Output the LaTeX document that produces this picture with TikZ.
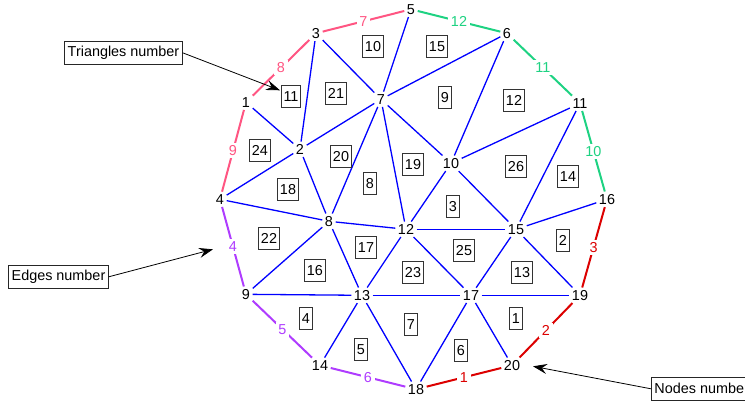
\documentclass[tikz,border=0pt]{standalone}
\usepackage{fontspec}
\setmainfont{Liberation Sans}
\usetikzlibrary{arrows.meta}
\definecolor{epink}{RGB}{255,85,130}
\definecolor{egreen}{RGB}{30,210,130}
\definecolor{ered}{RGB}{220,0,0}
\definecolor{epurple}{RGB}{175,60,255}
\begin{document}
\begin{tikzpicture}[x=1pt,y=-1pt,
  font=\fontsize{14.4}{16}\selectfont,
  vnode/.style={inner sep=2.5pt},
  tri/.style={draw=black!80, line width=0.8pt, inner xsep=2.3pt, inner ysep=0pt, minimum height=22pt},
  inedge/.style={blue, line width=1.3pt},
  bedge/.style={line width=2pt},
  elab/.style={fill=white, inner sep=2.5pt},
  ann/.style={draw=black!85, line width=0.8pt, inner xsep=3pt, inner ysep=0pt, minimum height=23pt},
  arr/.style={-{Stealth[length=14pt,width=10pt,inset=5pt]}, line width=0.8pt}]
\useasboundingbox (0,-0.3) rectangle (745,401.7);
\clip (0,-0.3) rectangle (745,401.7);
% vertices
\node[vnode] (n1) at (246,102) {1};
\node[vnode] (n2) at (300,149) {2};
\node[vnode] (n3) at (316,33) {3};
\node[vnode] (n4) at (220,199) {4};
\node[vnode] (n5) at (411,9) {5};
\node[vnode] (n6) at (507,33) {6};
\node[vnode] (n7) at (381,99) {7};
\node[vnode] (n8) at (329,221) {8};
\node[vnode] (n9) at (246,294) {9};
\node[vnode] (n10) at (451,163) {10};
\node[vnode] (n11) at (580,103) {11};
\node[vnode] (n12) at (406,229) {12};
\node[vnode] (n13) at (362,295) {13};
\node[vnode] (n14) at (320,365) {14};
\node[vnode] (n15) at (516,229) {15};
\node[vnode] (n16) at (607,199) {16};
\node[vnode] (n17) at (471,295) {17};
\node[vnode] (n18) at (416,389) {18};
\node[vnode] (n19) at (580,295) {19};
\node[vnode] (n20) at (512,365) {20};
% interior edges
\foreach \a/\b in {3/7,5/7,6/7,6/10,7/10,10/11,1/2,2/3,2/7,2/4,2/8,7/8,7/12,4/8,8/12,10/12,11/15,10/15,12/15,15/16,8/9,8/13,9/13,12/13,12/17,13/17,15/17,15/19,17/19,13/14,13/18,17/18,17/20}
  \draw[inedge] (n\a) -- (n\b);
% boundary edges
\draw[bedge,ered] (n18) -- node[elab,text=ered] (e1) {1} (n20);
\draw[bedge,ered] (n20) -- node[elab,text=ered] (e2) {2} (n19);
\draw[bedge,ered] (n19) -- node[elab,text=ered] (e3) {3} (n16);
\draw[bedge,epurple] (n4) -- node[elab,text=epurple] (e4) {4} (n9);
\draw[bedge,epurple] (n9) -- node[elab,text=epurple] (e5) {5} (n14);
\draw[bedge,epurple] (n14) -- node[elab,text=epurple] (e6) {6} (n18);
\draw[bedge,epink] (n3) -- node[elab,text=epink] (e7) {7} (n5);
\draw[bedge,epink] (n1) -- node[elab,text=epink] (e8) {8} (n3);
\draw[bedge,epink] (n1) -- node[elab,text=epink] (e9) {9} (n4);
\draw[bedge,egreen] (n16) -- node[elab,text=egreen] (e10) {10} (n11);
\draw[bedge,egreen] (n11) -- node[elab,text=egreen] (e11) {11} (n6);
\draw[bedge,egreen] (n6) -- node[elab,text=egreen] (e12) {12} (n5);
% triangle numbers
\foreach \t/\x/\y in {10/373/46,15/437/46,11/291/96,21/336/93,9/445/97,12/514/100,24/260/150,20/341/156,8/370/183,19/413/164,26/516/166,14/568/176,18/288/189,3/453/206,22/269/238,17/366/247,2/563/240,25/464/250,16/315/270,23/413/272,13/522/272,4/306/318,1/516/318,7/411/324,5/361/349,6/461/350}
  \node[tri] (t\t) at (\x,\y) {\t};
% annotations
\node[ann] (atri) at (123.5,52.5) {Triangles number};
\node[ann] (aedge) at (58.5,276.5) {Edges number};
\node[ann, anchor=west] (anode) at (651,388.5) {Nodes number};
\coordinate (ptri) at (280,90);
\coordinate (pedge) at (213,249);
\coordinate (pnode) at (533,366);
\draw[arr] (atri.east) -- (ptri);
\draw[arr] (aedge.east) -- (pedge);
\draw[arr] (anode.west) -- (pnode);
\end{tikzpicture}
\end{document}
